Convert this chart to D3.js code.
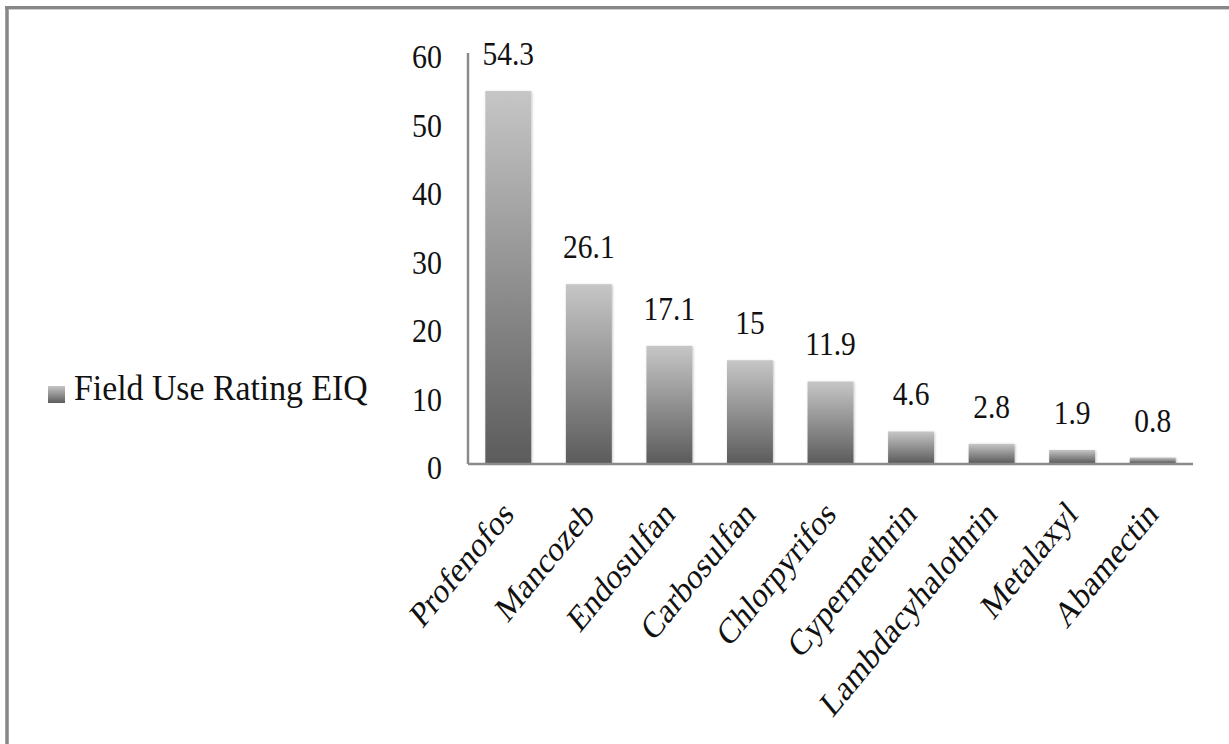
<!DOCTYPE html>
<html>
<head>
<meta charset="utf-8">
<script src="https://cdn.jsdelivr.net/npm/d3@7"></script>
<style>
  html, body { margin: 0; padding: 0; background: #fff; }
  svg { display: block; }
  text { font-family: "Liberation Serif", "Times New Roman", serif; fill: #111; }
</style>
</head>
<body>
<script>
const categories = ["Profenofos", "Mancozeb", "Endosulfan", "Carbosulfan", "Chlorpyrifos", "Cypermethrin", "Lambdacyhalothrin", "Metalaxyl", "Abamectin"];
const values = [54.3, 26.1, 17.1, 15, 11.9, 4.6, 2.8, 1.9, 0.8];
const valueLabels = ["54.3", "26.1", "17.1", "15", "11.9", "4.6", "2.8", "1.9", "0.8"];
const yTicks = [0, 10, 20, 30, 40, 50, 60];
const seriesName = "Field Use Rating EIQ";

const W = 1229, H = 744;
const svg = d3.select("body").append("svg").attr("width", W).attr("height", H);

const defs = svg.append("defs");
const grad = defs.append("linearGradient").attr("id", "barGrad")
  .attr("x1", 0).attr("y1", 0).attr("x2", 0).attr("y2", 1);
grad.append("stop").attr("offset", "0%").attr("stop-color", "#c6c6c6");
grad.append("stop").attr("offset", "100%").attr("stop-color", "#5c5c5c");
const shadow = defs.append("filter").attr("id", "shadow")
  .attr("x", "-20%").attr("y", "-20%").attr("width", "140%").attr("height", "140%");
shadow.append("feDropShadow").attr("dx", 0.8).attr("dy", 0.8).attr("stdDeviation", 1.2)
  .attr("flood-color", "#000").attr("flood-opacity", 0.25);

// Frame
svg.append("line").attr("x1", 5).attr("x2", W).attr("y1", 7.5).attr("y2", 7.5)
  .attr("stroke", "#878787").attr("stroke-width", 3);
svg.append("line").attr("x1", 9).attr("x2", W).attr("y1", 9.5).attr("y2", 9.5)
  .attr("stroke", "#cfcfcf").attr("stroke-width", 1);
svg.append("line").attr("x1", 7).attr("x2", 7).attr("y1", 6).attr("y2", H)
  .attr("stroke", "#878787").attr("stroke-width", 3.5);

const x0 = 468, x1 = 1193, yBase = 463, yTop = 52;
const SY = 1.15; // vertical stretch of the lettering
const x = d3.scaleBand().domain(categories).range([x0, x1]).paddingInner(0.43).paddingOuter(0.215);
const y = d3.scaleLinear().domain([0, 60]).range([yBase, yTop]);

// Bars
svg.append("g").selectAll("rect").data(values).join("rect")
  .attr("x", (d, i) => x(categories[i]))
  .attr("width", x.bandwidth())
  .attr("y", d => y(d))
  .attr("height", d => yBase - y(d))
  .attr("fill", "url(#barGrad)")
  .attr("filter", "url(#shadow)");

// Value labels
svg.append("g").selectAll("text").data(values).join("text")
  .attr("transform", (d, i) => `translate(${x(categories[i]) + x.bandwidth() / 2},${y(d) - 26}) scale(1,${SY})`)
  .attr("text-anchor", "middle")
  .attr("font-size", 29.5)
  .text((d, i) => valueLabels[i]);

// Y axis
const yAxis = svg.append("g").attr("transform", `translate(${x0},0)`)
  .call(d3.axisLeft(y).tickValues(yTicks).tickSize(0).tickPadding(26).tickFormat(d3.format("d")));
yAxis.select(".domain").remove();
yAxis.selectAll(".tick text").attr("font-size", 30).attr("font-family", "Liberation Serif")
  .attr("fill", "#111").attr("dy", "0.45em").attr("transform", `scale(1,${SY})`);

svg.append("line").attr("x1", x0).attr("x2", x0).attr("y1", 53).attr("y2", yBase + 1)
  .attr("stroke", "#8a8a8a").attr("stroke-width", 2.5);

// X axis
const xAxis = svg.append("g").attr("transform", `translate(0,${yBase})`)
  .call(d3.axisBottom(x).tickSize(0).tickPadding(0));
xAxis.select(".domain").remove();
xAxis.selectAll(".tick text")
  .attr("font-size", 30).attr("font-family", "Liberation Serif").attr("fill", "#111")
  .attr("text-anchor", "end")
  .attr("dy", null).attr("y", null)
  .attr("transform", `translate(7,53) scale(1,1.22) rotate(-45)`);

svg.append("line").attr("x1", x0).attr("x2", x1).attr("y1", yBase + 1).attr("y2", yBase + 1)
  .attr("stroke", "#8a8a8a").attr("stroke-width", 2.5);

// Legend
const lg = svg.append("g");
lg.append("rect").attr("x", 48).attr("y", 386).attr("width", 17).attr("height", 17)
  .attr("fill", "url(#barGrad)");
lg.append("text").attr("transform", "translate(74,400) scale(1,1.05)").attr("font-size", 33.8).text(seriesName);
</script>
</body>
</html>
